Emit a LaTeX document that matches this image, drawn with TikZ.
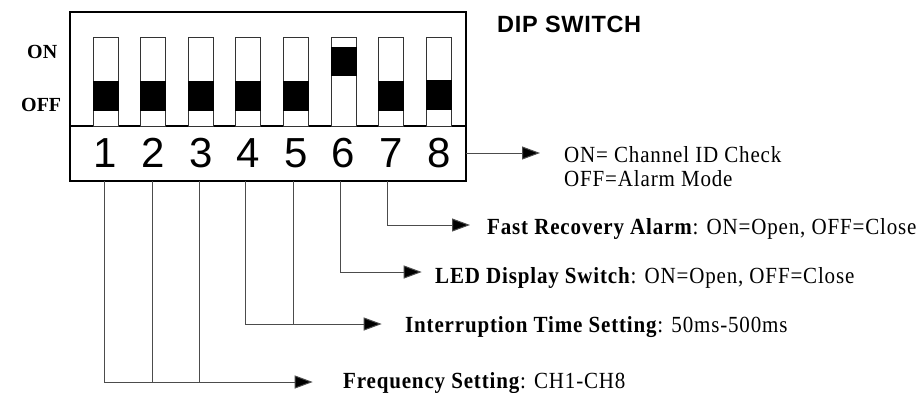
\documentclass[tikz,border=0pt]{standalone}
\usepackage{fontspec}
\setmainfont{Liberation Serif}
\newfontfamily\lblfont[LetterSpace=4]{Liberation Serif}
\newfontfamily\titlefont[LetterSpace=3]{Liberation Sans}
\newfontfamily\digitfont{Liberation Sans}
\usetikzlibrary{arrows.meta}
\newcommand{\tallt}[1]{\scalebox{1}[1.1]{#1}}
\begin{document}
\begin{tikzpicture}[x=1pt,y=-1pt,
  outline/.style={draw=black, line width=1.2pt},
  slotbox/.style={draw=black!80, line width=0.9pt, fill=white, minimum width=25pt, minimum height=89pt, inner sep=0pt, outer sep=0pt},
  knob/.style={fill=black, minimum width=26pt, minimum height=30pt, inner sep=0pt, outer sep=0pt},
  digit/.style={anchor=base, inner sep=0pt, font=\digitfont\fontsize{42}{42}\selectfont},
  sidelbl/.style={anchor=base west, inner sep=0pt, font=\bfseries\fontsize{20}{22}\selectfont},
  lbl/.style={anchor=base west, inner sep=0pt, font=\lblfont\fontsize{21}{24}\selectfont},
  conn/.style={draw=black!70, line width=1pt},
  arr/.style={conn, -{Triangle[length=18pt,width=13pt,fill=black]}}
]
\useasboundingbox (0,0) rectangle (922,392);
\fill[white] (0,0) rectangle (922,392);

% outer box
\node[outline, anchor=north west, minimum width=396pt, minimum height=169pt, inner sep=0pt, outer sep=0pt] (box) at (70,12) {};
\draw[outline] (70,126) -- (466,126);

% title
\node[anchor=base west, inner sep=0pt, font=\titlefont\bfseries\fontsize{23.5}{26}\selectfont] (title) at (497,32) {DIP SWITCH};

% side labels
\node[sidelbl] (onlbl) at (27,58) {ON};
\node[sidelbl] (offlbl) at (21,111) {OFF};

% slots, knobs and digits
\foreach \i in {1,...,8} {
  \pgfmathsetmacro{\cx}{105.5+47.6*(\i-1)}
  \node[slotbox] (s\i) at (\cx,81.5) {};
  \node[digit] (d\i) at (\cx,167) {\i};
}
\foreach \i in {1,2,3,4,5,7} {
  \pgfmathsetmacro{\cx}{105.5+47.6*(\i-1)}
  \node[knob] (k\i) at (\cx,96) {};
}
\node[knob, minimum height=29.5pt] (k6) at (343.5,61.3) {};
\node[knob] (k8) at (438.7,95) {};

% connector coordinates
\coordinate (c1) at (104,181);
\coordinate (c2) at (152.7,181);
\coordinate (c3) at (199,181);
\coordinate (c4) at (245,181);
\coordinate (c5) at (293,181);
\coordinate (c6) at (340,181);
\coordinate (c7) at (387,181);
\coordinate (c8) at (466,153);

\coordinate (j2) at (152.7,382);
\coordinate (j3) at (199,382);
\coordinate (j5) at (293,324);

\coordinate (t1) at (312.7,382);
\coordinate (t4) at (381.7,324);
\coordinate (t6) at (421.7,272);
\coordinate (t7) at (470,225);
\coordinate (t8) at (540,153);

% labels
\node[lbl] (l8a) at (564,162.7) {\tallt{ON= Channel ID Check}};
\node[lbl] (l8b) at (564,186.7) {\tallt{OFF=Alarm Mode}};
\node[lbl] (l7) at (487,234) {\tallt{\textbf{Fast Recovery Alarm}: ON=Open, OFF=Close}};
\node[lbl] (l6) at (435,283) {\tallt{\textbf{LED Display Switch}: ON=Open, OFF=Close}};
\node[lbl] (l4) at (405,332) {\tallt{\textbf{Interruption Time Setting}: 50ms-500ms}};
\node[lbl] (l1) at (343,388) {\tallt{\textbf{Frequency Setting}: CH1-CH8}};

% connectors
\draw[arr] (c8) -- (t8);
\draw[arr] (c7) |- (t7);
\draw[arr] (c6) |- (t6);
\draw[arr] (c4) |- (t4);
\draw[conn] (c5) -- (j5);
\draw[arr] (c1) |- (t1);
\draw[conn] (c2) -- (j2);
\draw[conn] (c3) -- (j3);
\end{tikzpicture}
\end{document}
